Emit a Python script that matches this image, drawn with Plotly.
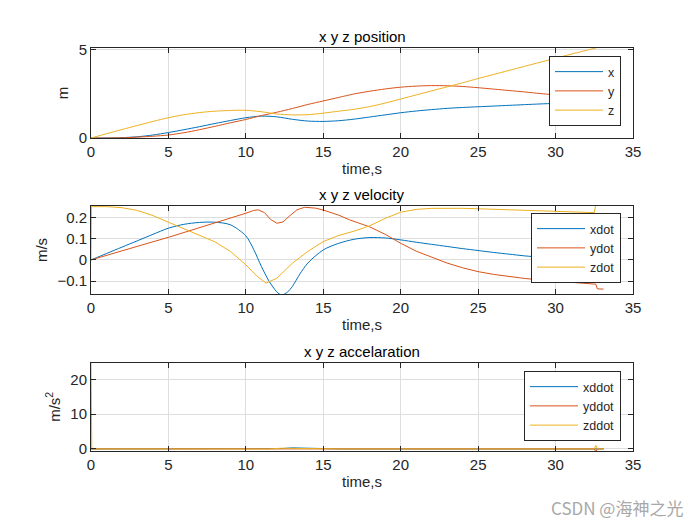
import plotly.graph_objects as go

# position, sampled every second
t_pos = list(range(0, 34))
x_pos = [0, 0, 0.02, 0.07, 0.17, 0.31, 0.47, 0.64, 0.82, 0.99, 1.15, 1.24, 1.2, 1.06, 0.96, 0.94, 0.98,
         1.07, 1.19, 1.31, 1.43, 1.53, 1.61, 1.68, 1.73, 1.77, 1.81, 1.85, 1.89, 1.93, 1.96, 1.98, 2.0, 2.0]
y_pos = [0, 0, 0.01, 0.05, 0.1, 0.17, 0.3, 0.47, 0.66, 0.86, 1.05, 1.27, 1.46, 1.67, 1.9, 2.1, 2.3,
         2.5, 2.65, 2.78, 2.88, 2.94, 2.97, 2.96, 2.92, 2.85, 2.77, 2.69, 2.61, 2.52, 2.44, 2.35, 2.26, 2.17]
z_pos = [0, 0.24, 0.48, 0.71, 0.94, 1.15, 1.32, 1.44, 1.52, 1.56, 1.57, 1.49, 1.36, 1.31, 1.32, 1.41, 1.52,
         1.63, 1.78, 1.98, 2.21, 2.44, 2.67, 2.9, 3.13, 3.37, 3.6, 3.83, 4.06, 4.29, 4.52, 4.75, 4.97, 5.2]

# velocity
t_xd = [0, 1, 2, 3, 4, 5, 6, 7, 8, 9, 10, 10.5, 11, 11.5, 12, 12.3, 12.7, 13, 13.5, 14, 15, 16, 17, 18,
        19, 20, 21, 22, 23, 24, 25, 26, 27, 28, 29, 30, 31, 32, 33]
xdot = [0, 0.03, 0.06, 0.09, 0.12, 0.149, 0.167, 0.176, 0.177, 0.165, 0.113, 0.05, -0.03, -0.1, -0.15,
        -0.165, -0.15, -0.125, -0.065, -0.015, 0.047, 0.078, 0.097, 0.105, 0.103, 0.094, 0.083, 0.073,
        0.063, 0.053, 0.044, 0.035, 0.027, 0.019, 0.013, 0.008, 0.004, 0.001, 0]
t_yd = [0, 1, 2, 3, 4, 5, 6, 7, 8, 9, 10, 10.5, 10.8, 11.2, 11.6, 12, 12.4, 12.8, 13.3, 13.8, 14.5, 15,
        16, 16.7, 18, 19, 20, 21, 22, 23, 24, 25, 26, 27, 28, 29, 30, 31, 32, 32.6, 32.7, 33.1]
ydot = [0, 0.022, 0.043, 0.064, 0.085, 0.106, 0.128, 0.15, 0.172, 0.195, 0.219, 0.232, 0.235, 0.222,
        0.19, 0.172, 0.178, 0.205, 0.235, 0.247, 0.243, 0.234, 0.21, 0.188, 0.155, 0.12, 0.078, 0.041,
        0.012, -0.015, -0.037, -0.055, -0.068, -0.078, -0.087, -0.094, -0.1, -0.105, -0.11, -0.114,
        -0.136, -0.137]
t_zd = [0, 0.03, 1, 2, 3, 4, 5, 6, 7, 8, 9, 10, 10.7, 11.3, 12, 13, 14, 15, 16, 17, 18, 19, 20, 21, 22,
        23, 24, 25, 26, 27, 28, 29, 30, 31, 32, 32.5, 32.6, 33.1]
zdot = [0, 0.25, 0.25, 0.245, 0.232, 0.208, 0.177, 0.147, 0.117, 0.085, 0.04, -0.023, -0.075, -0.109,
        -0.086, -0.016, 0.04, 0.086, 0.115, 0.135, 0.16, 0.195, 0.224, 0.237, 0.242, 0.243, 0.242, 0.24,
        0.238, 0.235, 0.232, 0.23, 0.227, 0.225, 0.223, 0.222, 0.262, 0.262]

# acceleration
t_acc = [0, 0.05, 11.5, 12.3, 13, 14, 15, 16, 32.5, 32.6, 32.7, 33.1]
xddot = [0, 0, 0, 0.1, 0.3, 0.25, 0.1, 0, 0, 0, 0, 0]
yddot = [0, 0, 0, 0, 0.05, 0.03, 0, 0, 0, -0.8, 0, 0]
zddot = [24.8, 0, 0, 0.2, 0.15, 0.1, 0, 0, 0, 1.0, 0, 0]

blue, red, yellow = "#0072BD", "#D95319", "#EDB120"
font = "Liberation Sans, Arial, sans-serif"
ink = "#262626"

W, H = 700, 525
OFF = 8  # the page body adds an 8px margin

def px(v):
    return (v - OFF) / W

def py(v):
    return 1 - (v - OFF) / H

fig = go.Figure()

def add(t, v, name, color, ax, legend, spline=False):
    fig.add_trace(go.Scatter(
        x=t, y=v, name=name, mode="lines",
        line=dict(color=color, width=1, shape="spline" if spline else "linear", smoothing=0.8),
        xaxis="x" + ax, yaxis="y" + ax, legend=legend,
    ))

add(t_pos, x_pos, "x", blue, "", "legend", True)
add(t_pos, y_pos, "y", red, "", "legend", True)
add(t_pos, z_pos, "z", yellow, "", "legend", True)
add(t_xd, xdot, "xdot", blue, "2", "legend2", True)
add(t_yd, ydot, "ydot", red, "2", "legend2")
add(t_zd, zdot, "zdot", yellow, "2", "legend2")
add(t_acc, xddot, "xddot", blue, "3", "legend3")
add(t_acc, yddot, "yddot", red, "3", "legend3")
add(t_acc, zddot, "zddot", yellow, "3", "legend3")

xdom = [px(91), px(633)]
ydoms = [[py(138), py(48)], [py(294), py(206)], [py(451), py(362.7)]]

common = dict(showline=True, linecolor=ink, linewidth=1, mirror="ticks", ticks="inside", ticklen=5,
              tickcolor=ink, showgrid=True, gridcolor="#dedede", gridwidth=1, zeroline=False,
              automargin=False, tickfont=dict(family=font, size=15, color=ink))

layout = dict(width=W, height=H, margin=dict(l=0, r=0, t=0, b=0),
              plot_bgcolor="white", paper_bgcolor="white", font=dict(family=font, size=15, color=ink))

yranges = [[0, 5.1], [-0.16, 0.253], [-0.6, 24.8]]
yticks = [[0, 5], [-0.1, 0, 0.1, 0.2], [0, 10, 20]]
ytitles = ["m", "m/s", "m/s<sup>2</sup>"]
titles = ["x y z position", "x y z velocity", "x y z accelaration"]
legend_tops = [56, 213, 371]

for i in range(3):
    sfx = "" if i == 0 else str(i + 1)
    layout["xaxis" + sfx] = dict(common, domain=xdom, range=[0, 35], tickvals=list(range(0, 36, 5)),
                                 anchor="y" + sfx,
                                 title=dict(text="time,s", standoff=4,
                                            font=dict(family=font, size=15, color=ink)))
    layout["yaxis" + sfx] = dict(common, domain=ydoms[i], range=yranges[i], tickvals=yticks[i],
                                 anchor="x" + sfx,
                                 title=dict(text=ytitles[i], standoff=6,
                                            font=dict(family=font, size=15, color=ink)))
    layout["legend" + sfx] = dict(x=px(621), xanchor="right", y=py(legend_tops[i]), yanchor="top",
                                  bgcolor="white", bordercolor=ink, borderwidth=1, itemwidth=48,
                                  font=dict(family=font, size=12.5, color=ink), tracegroupgap=0)

annotations = []
for i in range(3):
    annotations.append(dict(text=titles[i], x=(xdom[0] + xdom[1]) / 2, y=ydoms[i][1], xref="paper",
                            yref="paper", xanchor="center", yanchor="bottom", yshift=1, showarrow=False,
                            font=dict(family=font, size=15, color="black")))
annotations.append(dict(text="CSDN @海神之光", x=px(685), y=py(507), xref="paper", yref="paper",
                        xanchor="right", yanchor="middle", showarrow=False,
                        font=dict(family="Noto Sans CJK SC", size=17, color="#a8a8a8")))
layout["annotations"] = annotations

fig.update_layout(layout)
fig.write_html("out.html")
